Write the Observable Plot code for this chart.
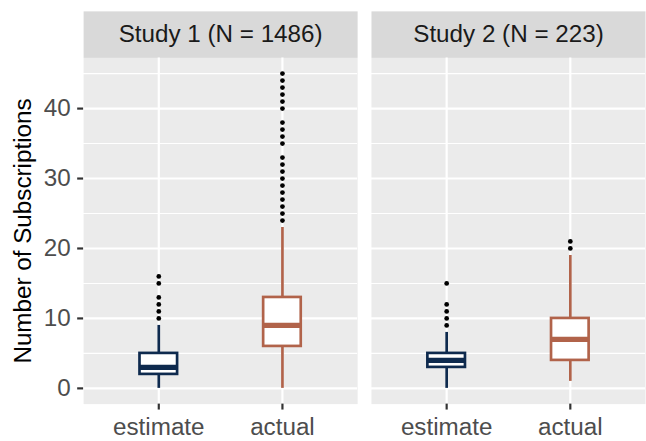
<!DOCTYPE html>
<html>
<head>
<meta charset="utf-8">
<script src="https://cdn.jsdelivr.net/npm/d3@7"></script>
<script src="https://cdn.jsdelivr.net/npm/@observablehq/plot@0.6"></script>
<style>
  html, body { margin: 0; padding: 0; background: white; }
  #chart { width: 646px; height: 441px; overflow: hidden; position: relative; }
</style>
</head>
<body>
<div id="chart"></div>
<script>
// ---- data ----
const studies = ["Study 1 (N = 1486)", "Study 2 (N = 223)"];
const groups = ["estimate", "actual"];
// boxes in order: Study1 estimate, Study1 actual, Study2 estimate, Study2 actual
const boxStudy = [0, 0, 1, 1];
const boxGroup = [0, 1, 0, 1];
const whiskerLow = [0, 0, 0, 1];
const q1 = [2, 6, 3, 4];
const median = [3, 9, 4, 7];
const q3 = [5, 13, 5, 10];
const whiskerHigh = [9, 23, 8, 19];
const outliers = [
  [10, 11, 12, 13, 15, 16],
  [24, 25, 26, 27, 28, 29, 30, 31, 32, 33, 35, 36, 37, 38, 40, 41, 42, 43, 44, 45],
  [9, 10, 11, 12, 15],
  [20, 21]
];
const yTicks = [0, 10, 20, 30, 40];
const yMinorTicks = [5, 15, 25, 35, 45];
const yTitle = "Number of Subscriptions";
const groupColors = ["#0e2a4e", "#b1634a"];

// ---- tables built from the arrays ----
const boxes = q1.map((_, i) => ({
  study: studies[boxStudy[i]],
  group: groups[boxGroup[i]],
  lo: whiskerLow[i], q1: q1[i], med: median[i], q3: q3[i], hi: whiskerHigh[i]
}));
const points = outliers.flatMap((vals, i) =>
  vals.map(v => ({study: studies[boxStudy[i]], group: groups[boxGroup[i]], value: v})));

const font = "'Liberation Sans', Arial, Helvetica, sans-serif";

const plot = Plot.plot({
  width: 653,
  height: 441,
  marginLeft: 84,
  marginRight: 0,
  marginTop: 58,
  marginBottom: 33,
  style: {fontFamily: font, fontSize: "24.5px", background: "white", overflow: "visible"},
  fx: {domain: studies, axis: null, paddingInner: 0.048, paddingOuter: 0},
  x: {domain: groups, paddingInner: 0.7, paddingOuter: 0.45, axis: null},
  y: {domain: [-2.25, 47.25], axis: null},
  color: {domain: groups, range: groupColors},
  marks: [
    // panel background and strip
    Plot.frame({fill: "#ebebeb"}),
    Plot.frame({fill: "#d9d9d9", insetTop: -47, insetBottom: 350}),
    Plot.text(studies, {fx: d => d, text: d => d, frameAnchor: "top", dy: -23.5,
      lineAnchor: "middle", fill: "#1a1a1a", fontSize: 24.5}),
    // grid
    Plot.gridY(yMinorTicks, {stroke: "white", strokeOpacity: 1, strokeWidth: 1.1}),
    Plot.gridY(yTicks, {stroke: "white", strokeOpacity: 1, strokeWidth: 2.2}),
    Plot.gridX(groups, {stroke: "white", strokeOpacity: 1, strokeWidth: 2.2}),
    // axes
    Plot.axisY(yTicks, {tickSize: 6, tickPadding: 7, stroke: "#333333", strokeWidth: 2.2,
      fill: "#4d4d4d", fontSize: 24.5, label: null}),
    Plot.axisX(groups, {tickSize: 6, tickPadding: 8, stroke: "#333333", strokeWidth: 2.2,
      fill: "#4d4d4d", fontSize: 24.5, label: null}),
    Plot.text([yTitle], {fx: () => studies[0], text: d => d, frameAnchor: "left", rotate: -90,
      textAnchor: "middle", dx: -71, lineAnchor: "top", fill: "black", fontSize: 24.5}),
    // boxplots
    Plot.ruleX(boxes, {fx: "study", x: "group", y1: "lo", y2: "q1", stroke: "group", strokeWidth: 2.7}),
    Plot.ruleX(boxes, {fx: "study", x: "group", y1: "q3", y2: "hi", stroke: "group", strokeWidth: 2.7}),
    Plot.barY(boxes, {fx: "study", x: "group", y1: "q1", y2: "q3", fill: "white", stroke: "group", strokeWidth: 2.7}),
    Plot.tickY(boxes, {fx: "study", x: "group", y: "med", stroke: "group", strokeWidth: 5.4}),
    Plot.dot(points, {fx: "study", x: "group", y: "value", r: 2.4, fill: "black", stroke: null})
  ]
});
document.getElementById("chart").appendChild(plot);
</script>
</body>
</html>
